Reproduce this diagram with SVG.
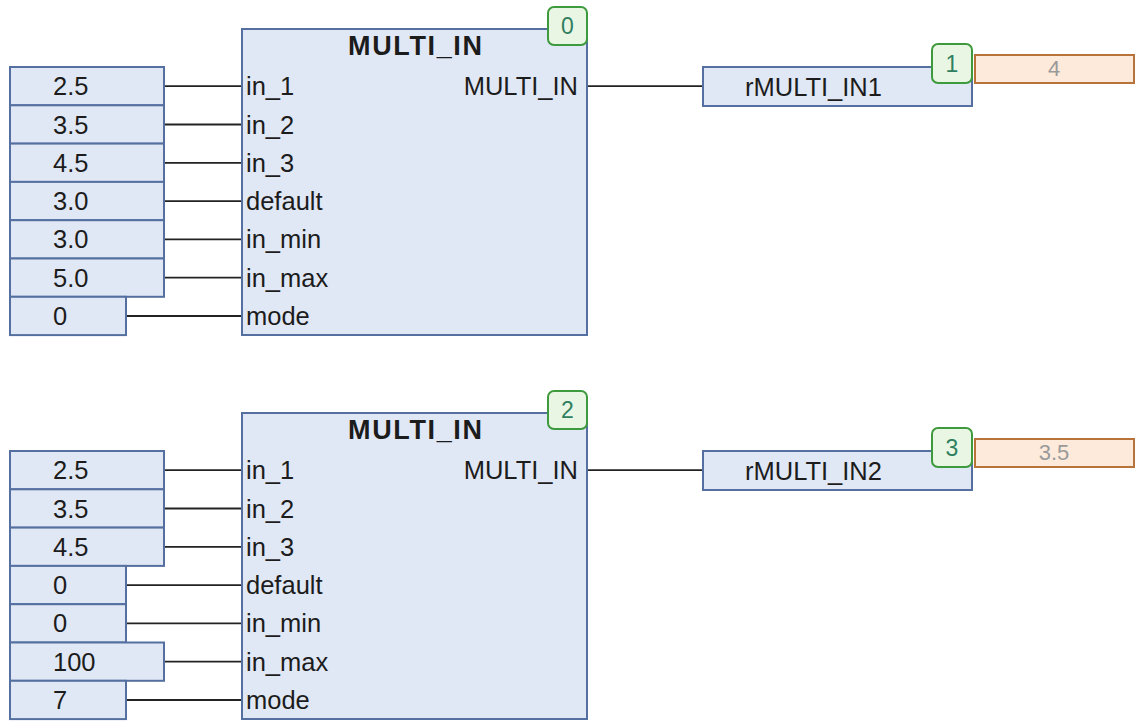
<svg xmlns="http://www.w3.org/2000/svg" width="1135" height="722" viewBox="0 0 1135 722">
<style>
.blk{fill:#e1e8f5;stroke:#5570a0;stroke-width:2}
.inp{fill:#e1e8f5;stroke:#5570a0;stroke-width:2}
.badge{fill:#e9f6e3;stroke:#3d9a3d;stroke-width:2}
.val{fill:#fdeadb;stroke:#b8733a;stroke-width:2}
.wire{stroke:#222;stroke-width:1.8;fill:none}
text{font-family:"Liberation Sans",Arial,sans-serif;fill:#1c1c1c}
.t{font-size:25.5px}
.title{font-size:27px;font-weight:bold;text-anchor:middle}
.bt{font-size:23px;fill:#2f7f5f;text-anchor:middle}
.vt{font-size:22px;fill:#9a9a9a;text-anchor:middle}
.r{text-anchor:end}
</style>
<g id="connectors">
<line class="wire" x1="164" y1="86.2" x2="242" y2="86.2"/>
<line class="wire" x1="164" y1="124.5" x2="242" y2="124.5"/>
<line class="wire" x1="164" y1="162.8" x2="242" y2="162.8"/>
<line class="wire" x1="164" y1="201.1" x2="242" y2="201.1"/>
<line class="wire" x1="164" y1="239.4" x2="242" y2="239.4"/>
<line class="wire" x1="164" y1="277.7" x2="242" y2="277.7"/>
<line class="wire" x1="126" y1="316" x2="242" y2="316"/>
<line class="wire" x1="587" y1="86.2" x2="703" y2="86.2"/>
<line class="wire" x1="164" y1="470.2" x2="242" y2="470.2"/>
<line class="wire" x1="164" y1="508.5" x2="242" y2="508.5"/>
<line class="wire" x1="164" y1="546.8" x2="242" y2="546.8"/>
<line class="wire" x1="126" y1="585.1" x2="242" y2="585.1"/>
<line class="wire" x1="126" y1="623.4" x2="242" y2="623.4"/>
<line class="wire" x1="164" y1="661.7" x2="242" y2="661.7"/>
<line class="wire" x1="126" y1="700" x2="242" y2="700"/>
<line class="wire" x1="587" y1="470.2" x2="703" y2="470.2"/>
</g>
<g id="block1">
<rect class="blk" x="242" y="29" width="345" height="306"/>
<text class="title" x="415" y="55" textLength="134" lengthAdjust="spacing">MULTI_IN</text>
<text class="t r" x="578" y="95">MULTI_IN</text>
<text class="t" x="246" y="95">in_1</text>
<text class="t" x="246" y="133.5">in_2</text>
<text class="t" x="246" y="171.8">in_3</text>
<text class="t" x="246" y="210.1">default</text>
<text class="t" x="246" y="248.4">in_min</text>
<text class="t" x="246" y="286.7">in_max</text>
<text class="t" x="246" y="325">mode</text>
</g>
<g id="badge0"><rect class="badge" x="548" y="7" width="39" height="38" rx="6"/><text class="bt" x="567.5" y="34">0</text></g>
<g id="in1_1"><rect class="inp" x="10" y="67" width="154" height="38.3"/><text class="t" x="53" y="95">2.5</text></g>
<g id="in1_2"><rect class="inp" x="10" y="105.3" width="154" height="38.3"/><text class="t" x="53" y="133.5">3.5</text></g>
<g id="in1_3"><rect class="inp" x="10" y="143.6" width="154" height="38.3"/><text class="t" x="53" y="171.8">4.5</text></g>
<g id="in1_4"><rect class="inp" x="10" y="181.9" width="154" height="38.3"/><text class="t" x="53" y="210.1">3.0</text></g>
<g id="in1_5"><rect class="inp" x="10" y="220.2" width="154" height="38.3"/><text class="t" x="53" y="248.4">3.0</text></g>
<g id="in1_6"><rect class="inp" x="10" y="258.5" width="154" height="38.3"/><text class="t" x="53" y="286.7">5.0</text></g>
<g id="in1_7"><rect class="inp" x="10" y="296.8" width="116" height="38.3"/><text class="t" x="53" y="325">0</text></g>
<g id="out1"><rect class="blk" x="703" y="67" width="269" height="39"/><text class="t" x="745" y="95.5">rMULTI_IN1</text></g>
<g id="badge1"><rect class="badge" x="932" y="44" width="40" height="39" rx="6"/><text class="bt" x="952" y="72">1</text></g>
<g id="val1"><rect class="val" x="975" y="55" width="159" height="28"/><text class="vt" x="1054" y="76">4</text></g>
<g id="block2">
<rect class="blk" x="242" y="413" width="345" height="306"/>
<text class="title" x="415" y="439" textLength="134" lengthAdjust="spacing">MULTI_IN</text>
<text class="t r" x="578" y="479">MULTI_IN</text>
<text class="t" x="246" y="479">in_1</text>
<text class="t" x="246" y="517.5">in_2</text>
<text class="t" x="246" y="555.8">in_3</text>
<text class="t" x="246" y="594.1">default</text>
<text class="t" x="246" y="632.4">in_min</text>
<text class="t" x="246" y="670.7">in_max</text>
<text class="t" x="246" y="709">mode</text>
</g>
<g id="badge2"><rect class="badge" x="548" y="391" width="39" height="38" rx="6"/><text class="bt" x="567.5" y="418">2</text></g>
<g id="in2_1"><rect class="inp" x="10" y="451" width="154" height="38.3"/><text class="t" x="53" y="479">2.5</text></g>
<g id="in2_2"><rect class="inp" x="10" y="489.3" width="154" height="38.3"/><text class="t" x="53" y="517.5">3.5</text></g>
<g id="in2_3"><rect class="inp" x="10" y="527.6" width="154" height="38.3"/><text class="t" x="53" y="555.8">4.5</text></g>
<g id="in2_4"><rect class="inp" x="10" y="565.9" width="116" height="38.3"/><text class="t" x="53" y="594.1">0</text></g>
<g id="in2_5"><rect class="inp" x="10" y="604.2" width="116" height="38.3"/><text class="t" x="53" y="632.4">0</text></g>
<g id="in2_6"><rect class="inp" x="10" y="642.5" width="154" height="38.3"/><text class="t" x="53" y="670.7">100</text></g>
<g id="in2_7"><rect class="inp" x="10" y="680.8" width="116" height="38.3"/><text class="t" x="53" y="709">7</text></g>
<g id="out2"><rect class="blk" x="703" y="451" width="269" height="39"/><text class="t" x="745" y="479.5">rMULTI_IN2</text></g>
<g id="badge3"><rect class="badge" x="932" y="428" width="40" height="39" rx="6"/><text class="bt" x="952" y="456">3</text></g>
<g id="val2"><rect class="val" x="975" y="439" width="159" height="28"/><text class="vt" x="1054" y="460">3.5</text></g>
</svg>
